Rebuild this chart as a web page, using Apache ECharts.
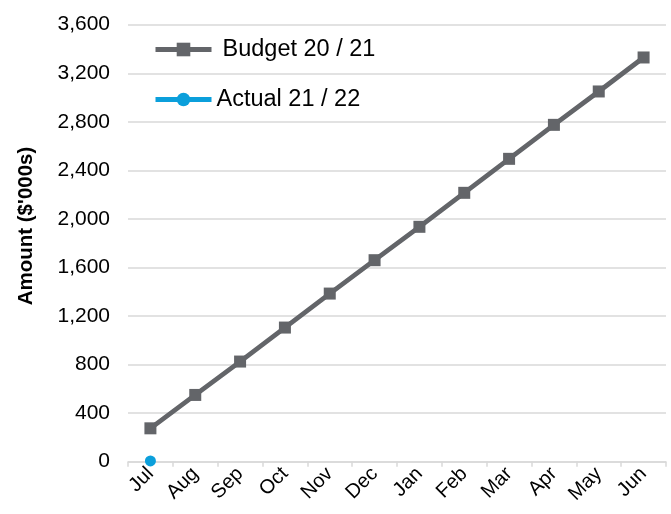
<!DOCTYPE html>
<html>
<head>
<meta charset="utf-8">
<script src="https://cdn.jsdelivr.net/npm/echarts@6/dist/echarts.min.js"></script>
<style>
  html, body { margin: 0; padding: 0; background: #fff; }
  #chart { width: 671px; height: 514px; }
</style>
</head>
<body>
<div id="chart"></div>
<script>
// Monthly cumulative amounts, in $'000s
const months = ['Jul', 'Aug', 'Sep', 'Oct', 'Nov', 'Dec', 'Jan', 'Feb', 'Mar', 'Apr', 'May', 'Jun'];
const budget2021 = [275, 550, 825, 1105, 1385, 1660, 1935, 2215, 2495, 2775, 3050, 3330];
const actual2122 = [6, null, null, null, null, null, null, null, null, null, null, null];
const yTicks = { min: 0, max: 3600, step: 400 };

const chart = echarts.init(document.getElementById('chart'), null, { renderer: 'canvas' });

const font = 'Liberation Sans, Arial, sans-serif';
const gray = '#636569';
const blue = '#0b9fdb';

chart.setOption({
  animation: false,
  backgroundColor: '#ffffff',
  grid: { left: 128, right: 5, top: 24.7, bottom: 52.3, containLabel: false },
  legend: {
    orient: 'vertical',
    left: 153,
    top: 37.5,
    padding: 0,
    itemWidth: 56,
    itemHeight: 17,
    itemGap: 26,
    lineStyle: { width: 5 },
    textStyle: { fontFamily: font, fontSize: 23.5, color: '#000' },
    data: [
      { name: 'Budget 20 / 21', textStyle: { padding: [0, 0, 0, 6] } },
      { name: 'Actual 21 / 22' }
    ]
  },
  xAxis: {
    type: 'category',
    data: months,
    boundaryGap: true,
    axisLine: { lineStyle: { color: '#d9d9d9', width: 1.5 } },
    axisTick: { show: true, alignWithLabel: false, length: 5, lineStyle: { color: '#d9d9d9', width: 1.5 } },
    axisLabel: { rotate: 45, margin: 9, fontFamily: font, fontSize: 20, color: '#000' }
  },
  yAxis: {
    type: 'value',
    min: yTicks.min,
    max: yTicks.max,
    interval: yTicks.step,
    axisLine: { show: false },
    axisTick: { show: false },
    splitLine: { lineStyle: { color: '#d9d9d9', width: 1.5 } },
    axisLabel: {
      margin: 18,
      fontFamily: font,
      fontSize: 21,
      color: '#000',
      formatter: v => v.toLocaleString('en-US')
    }
  },
  graphic: [{
    type: 'text',
    x: 26,
    y: 226,
    rotation: Math.PI / 2,
    style: {
      text: "Amount ($'000s)",
      fontFamily: font,
      fontSize: 20.5,
      fontWeight: 'bold',
      fill: '#000',
      align: 'center',
      verticalAlign: 'middle'
    }
  }],
  series: [
    {
      name: 'Budget 20 / 21',
      type: 'line',
      data: budget2021,
      symbol: 'rect',
      symbolSize: 12,
      itemStyle: { color: gray },
      lineStyle: { color: gray, width: 4.8 },
      z: 2
    },
    {
      name: 'Actual 21 / 22',
      type: 'line',
      data: actual2122,
      symbol: 'circle',
      symbolSize: 11,
      itemStyle: { color: blue },
      lineStyle: { color: blue, width: 4.8 },
      z: 3
    }
  ]
});
</script>
</body>
</html>
